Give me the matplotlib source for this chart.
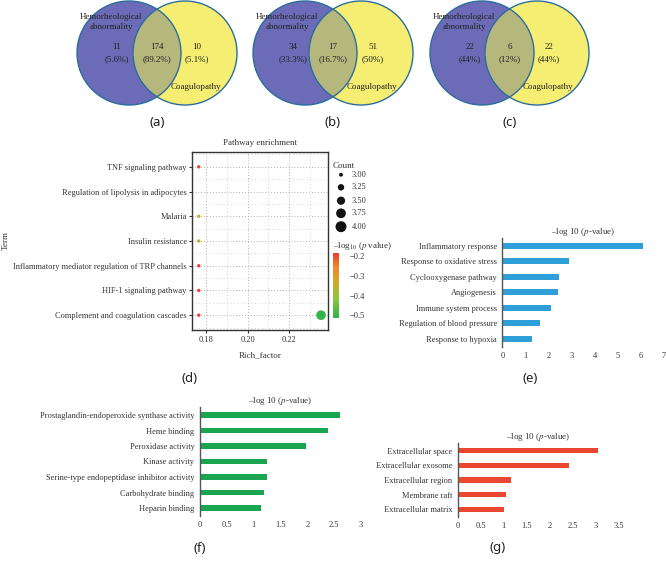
import numpy as np
import matplotlib
matplotlib.use('Agg')
import matplotlib.pyplot as plt
from matplotlib.patches import Circle
from matplotlib.colors import LinearSegmentedColormap, Normalize

plt.rcParams['font.family'] = ['Liberation Serif', 'DejaVu Serif']
plt.rcParams['mathtext.fontset'] = 'stix'
plt.rcParams['text.color'] = '#333333'
plt.rcParams['xtick.color'] = '#333333'
plt.rcParams['ytick.color'] = '#333333'

# Venn counts: [only hemorheological, both, only coagulopathy]
venn_a = [11, 174, 10]
venn_b = [34, 17, 51]
venn_c = [22, 6, 22]
venn_sets = [venn_a, venn_b, venn_c]
venn_tags = ['(a)', '(b)', '(c)']

# KEGG pathway enrichment (d)
kegg_terms = ['TNF signaling pathway', 'Regulation of lipolysis in adipocytes', 'Malaria',
              'Insulin resistance', 'Inflammatory mediator regulation of TRP channels',
              'HIF-1 signaling pathway', 'Complement and coagulation cascades']
dot_term = ['TNF signaling pathway', 'Malaria', 'Insulin resistance',
            'Inflammatory mediator regulation of TRP channels', 'HIF-1 signaling pathway',
            'Complement and coagulation cascades', 'Complement and coagulation cascades']
dot_rich = [0.1765, 0.1765, 0.1765, 0.1765, 0.1765, 0.1765, 0.2353]
dot_count = [3, 3, 3, 3, 3, 3, 4]
dot_logp = [-0.19, -0.34, -0.35, -0.19, -0.19, -0.19, -0.51]
legend_counts = [3.00, 3.25, 3.50, 3.75, 4.00]

# GO biological process (e)
bp_terms = ['Inflammatory response', 'Response to oxidative stress', 'Cyclooxygenase pathway',
            'Angiogenesis', 'Immune system process', 'Regulation of blood pressure',
            'Response to hypoxia']
bp_vals = [6.09, 2.9, 2.44, 2.4, 2.11, 1.62, 1.27]

# GO molecular function (f)
mf_terms = ['Prostaglandin-endoperoxide synthase activity', 'Heme binding', 'Peroxidase activity',
            'Kinase activity', 'Serine-type endopeptidase inhibitor activity',
            'Carbohydrate binding', 'Heparin binding']
mf_vals = [2.61, 2.39, 1.98, 1.24, 1.24, 1.19, 1.14]

# GO cellular component (g)
cc_terms = ['Extracellular space', 'Extracellular exosome', 'Extracellular region',
            'Membrane raft', 'Extracellular matrix']
cc_vals = [3.05, 2.42, 1.15, 1.05, 1.01]

W, H = 666, 567
fig = plt.figure(figsize=(W / 100, H / 100), dpi=100)


def rect(l, t, r, b):
    return [l / W, 1 - b / H, (r - l) / W, (b - t) / H]


# overlay in pixel coordinates for venns and free text
ov = fig.add_axes([0, 0, 1, 1])
ov.set_xlim(0, W)
ov.set_ylim(H, 0)
ov.axis('off')

blue, yellow, olive, edge = '#6b6bb8', '#f5ee72', '#b5b77c', '#2b6e9b'
centers = [(129, 185), (305, 361), (482, 537)]
cy, r = 53, 52


def pct(v, tot):
    s = '%.1f' % (100 * v / tot)
    return s[:-2] if s.endswith('.0') else s


for (lx, rx), vals, tag in zip(centers, venn_sets, venn_tags):
    ov.add_patch(Circle((lx, cy), r, fc=blue, ec='none'))
    ov.add_patch(Circle((rx, cy), r, fc=yellow, ec='none'))
    clip = Circle((rx, cy), r, transform=ov.transData)
    lens = Circle((lx, cy), r, fc=olive, ec='none')
    ov.add_patch(lens)
    lens.set_clip_path(clip)
    ov.add_patch(Circle((lx, cy), r, fc='none', ec=edge, lw=1))
    ov.add_patch(Circle((rx, cy), r, fc='none', ec=edge, lw=1))
    tot = sum(vals)
    xs = [lx - 12, (lx + rx) / 2, rx + 12]
    for x, v in zip(xs, vals):
        ov.text(x, cy, '%d\n(%s%%)' % (v, pct(v, tot)), ha='center', va='center',
                fontsize=6.5, linespacing=1.6, color='#222222')
    ov.text(lx - 18, 22, 'Hemorheological\nabnormality', ha='center', va='center',
            fontsize=6.5, linespacing=1.3, color='#222222')
    ov.text(rx + 11, 87, 'Coagulopathy', ha='center', va='center', fontsize=6.5, color='#222222')
    ov.text((lx + rx) / 2, 122, tag, ha='center', va='center', fontsize=9.5,
            family='Noto Sans', color='#222222')

# (d) dot plot
cmap = LinearSegmentedColormap.from_list('enr', [(0, '#2db34a'), (0.3, '#8cc63f'),
                                                 (0.55, '#d0a82a'), (0.78, '#f08a28'),
                                                 (1, '#e8402a')])
norm = Normalize(vmin=-0.514, vmax=-0.186)


def dsize(c):
    return 6 + (np.asarray(c) - 3) * 42


axd = fig.add_axes(rect(192.3, 152, 328.3, 330), facecolor='none')
ypos = [kegg_terms.index(t) for t in dot_term]
sc = axd.scatter(dot_rich, ypos, s=dsize(dot_count), c=dot_logp, cmap=cmap, norm=norm,
                 zorder=3, linewidths=0)
axd.set_xlim(0.1734, 0.2388)
axd.set_ylim(6.6, -0.6)
axd.set_yticks(range(len(kegg_terms)))
axd.set_yticklabels(kegg_terms, fontsize=6)
axd.set_xticks([0.18, 0.20, 0.22])
axd.set_xticklabels(['0.18', '0.20', '0.22'], fontsize=6)
axd.set_xticks([0.19, 0.21, 0.23], minor=True)
axd.set_yticks(np.arange(-0.5, 7, 1), minor=True)
axd.grid(which='major', ls=(0, (1, 2.5)), color='#999999', lw=0.6)
axd.grid(which='minor', ls=(0, (1, 4)), color='#aaaaaa', lw=0.5)
axd.tick_params(which='major', length=2, pad=2, color='#333333')
axd.tick_params(which='minor', length=0)
for s in axd.spines.values():
    s.set_color('#333333')
    s.set_linewidth(1)
ov.text(260, 143, 'Pathway enrichment', ha='center', va='center', fontsize=6.5)
ov.text(260, 355, 'Rich_factor', ha='center', va='center', fontsize=6.5)
ov.text(6, 241, 'Term', ha='center', va='center', rotation=90, fontsize=6.5)
ov.text(190, 379, '(d)', ha='center', va='center', fontsize=9.5, family='Noto Sans', color='#222222')

# size legend
ov.text(333, 166, 'Count', ha='left', va='center', fontsize=6.5)
leg_y = [174.7, 187.3, 200.7, 213.3, 226.7]
ov.scatter([341] * len(legend_counts), leg_y, s=dsize(legend_counts) * 1.3, c='#111111', linewidths=0)
for y, c in zip(leg_y, legend_counts):
    ov.text(352, y, '%.2f' % c, ha='left', va='center', fontsize=6)

# colour bar
cax = fig.add_axes(rect(333.3, 253.3, 338.8, 318))
cb = fig.colorbar(sc, cax=cax, ticks=[-0.2, -0.3, -0.4, -0.5])
cb.outline.set_visible(False)
cax.tick_params(length=0, pad=8, labelsize=6)
ov.text(333, 246, r'–log$_{10}$ ($p$ value)', ha='left', va='center', fontsize=6.5)


def bars(rc, terms, vals, color, xmax, step, tag, tagpos):
    ax = fig.add_axes(rect(*rc), facecolor='none')
    ax.barh(range(len(terms)), vals, height=0.38, color=color)
    ax.set_ylim(len(terms) - 0.5, -0.5)
    ax.set_xlim(0, xmax)
    ax.set_yticks(range(len(terms)))
    ax.set_yticklabels(terms, fontsize=6)
    ticks = np.arange(0, xmax + step / 2, step)
    ax.set_xticks(ticks)
    ax.set_xticklabels(['%g' % t for t in ticks], fontsize=6)
    ax.tick_params(axis='y', length=0, pad=4)
    ax.tick_params(axis='x', length=0, pad=4)
    for k in ['top', 'right', 'bottom']:
        ax.spines[k].set_visible(False)
    ax.spines['left'].set_color('#555555')
    ax.spines['left'].set_linewidth(1)
    ax.set_title(r'–log 10 ($p$-value)', fontsize=6.5, pad=3)
    ov.text(tagpos[0], tagpos[1], tag, ha='center', va='center', fontsize=9.5,
            family='Noto Sans', color='#222222')
    return ax


bars((502.5, 238, 663.5, 346.7), bp_terms, bp_vals, '#2f9fda', 7, 1, '(e)', (530, 379))
bars((200, 407.25, 361, 515.75), mf_terms, mf_vals, '#1aa651', 3, 0.5, '(f)', (200, 548))
bars((457.7, 443.3, 618.7, 516.7), cc_terms, cc_vals, '#e9472f', 3.5, 0.5, '(g)', (498, 548))

fig.savefig('out.png', dpi=100)
